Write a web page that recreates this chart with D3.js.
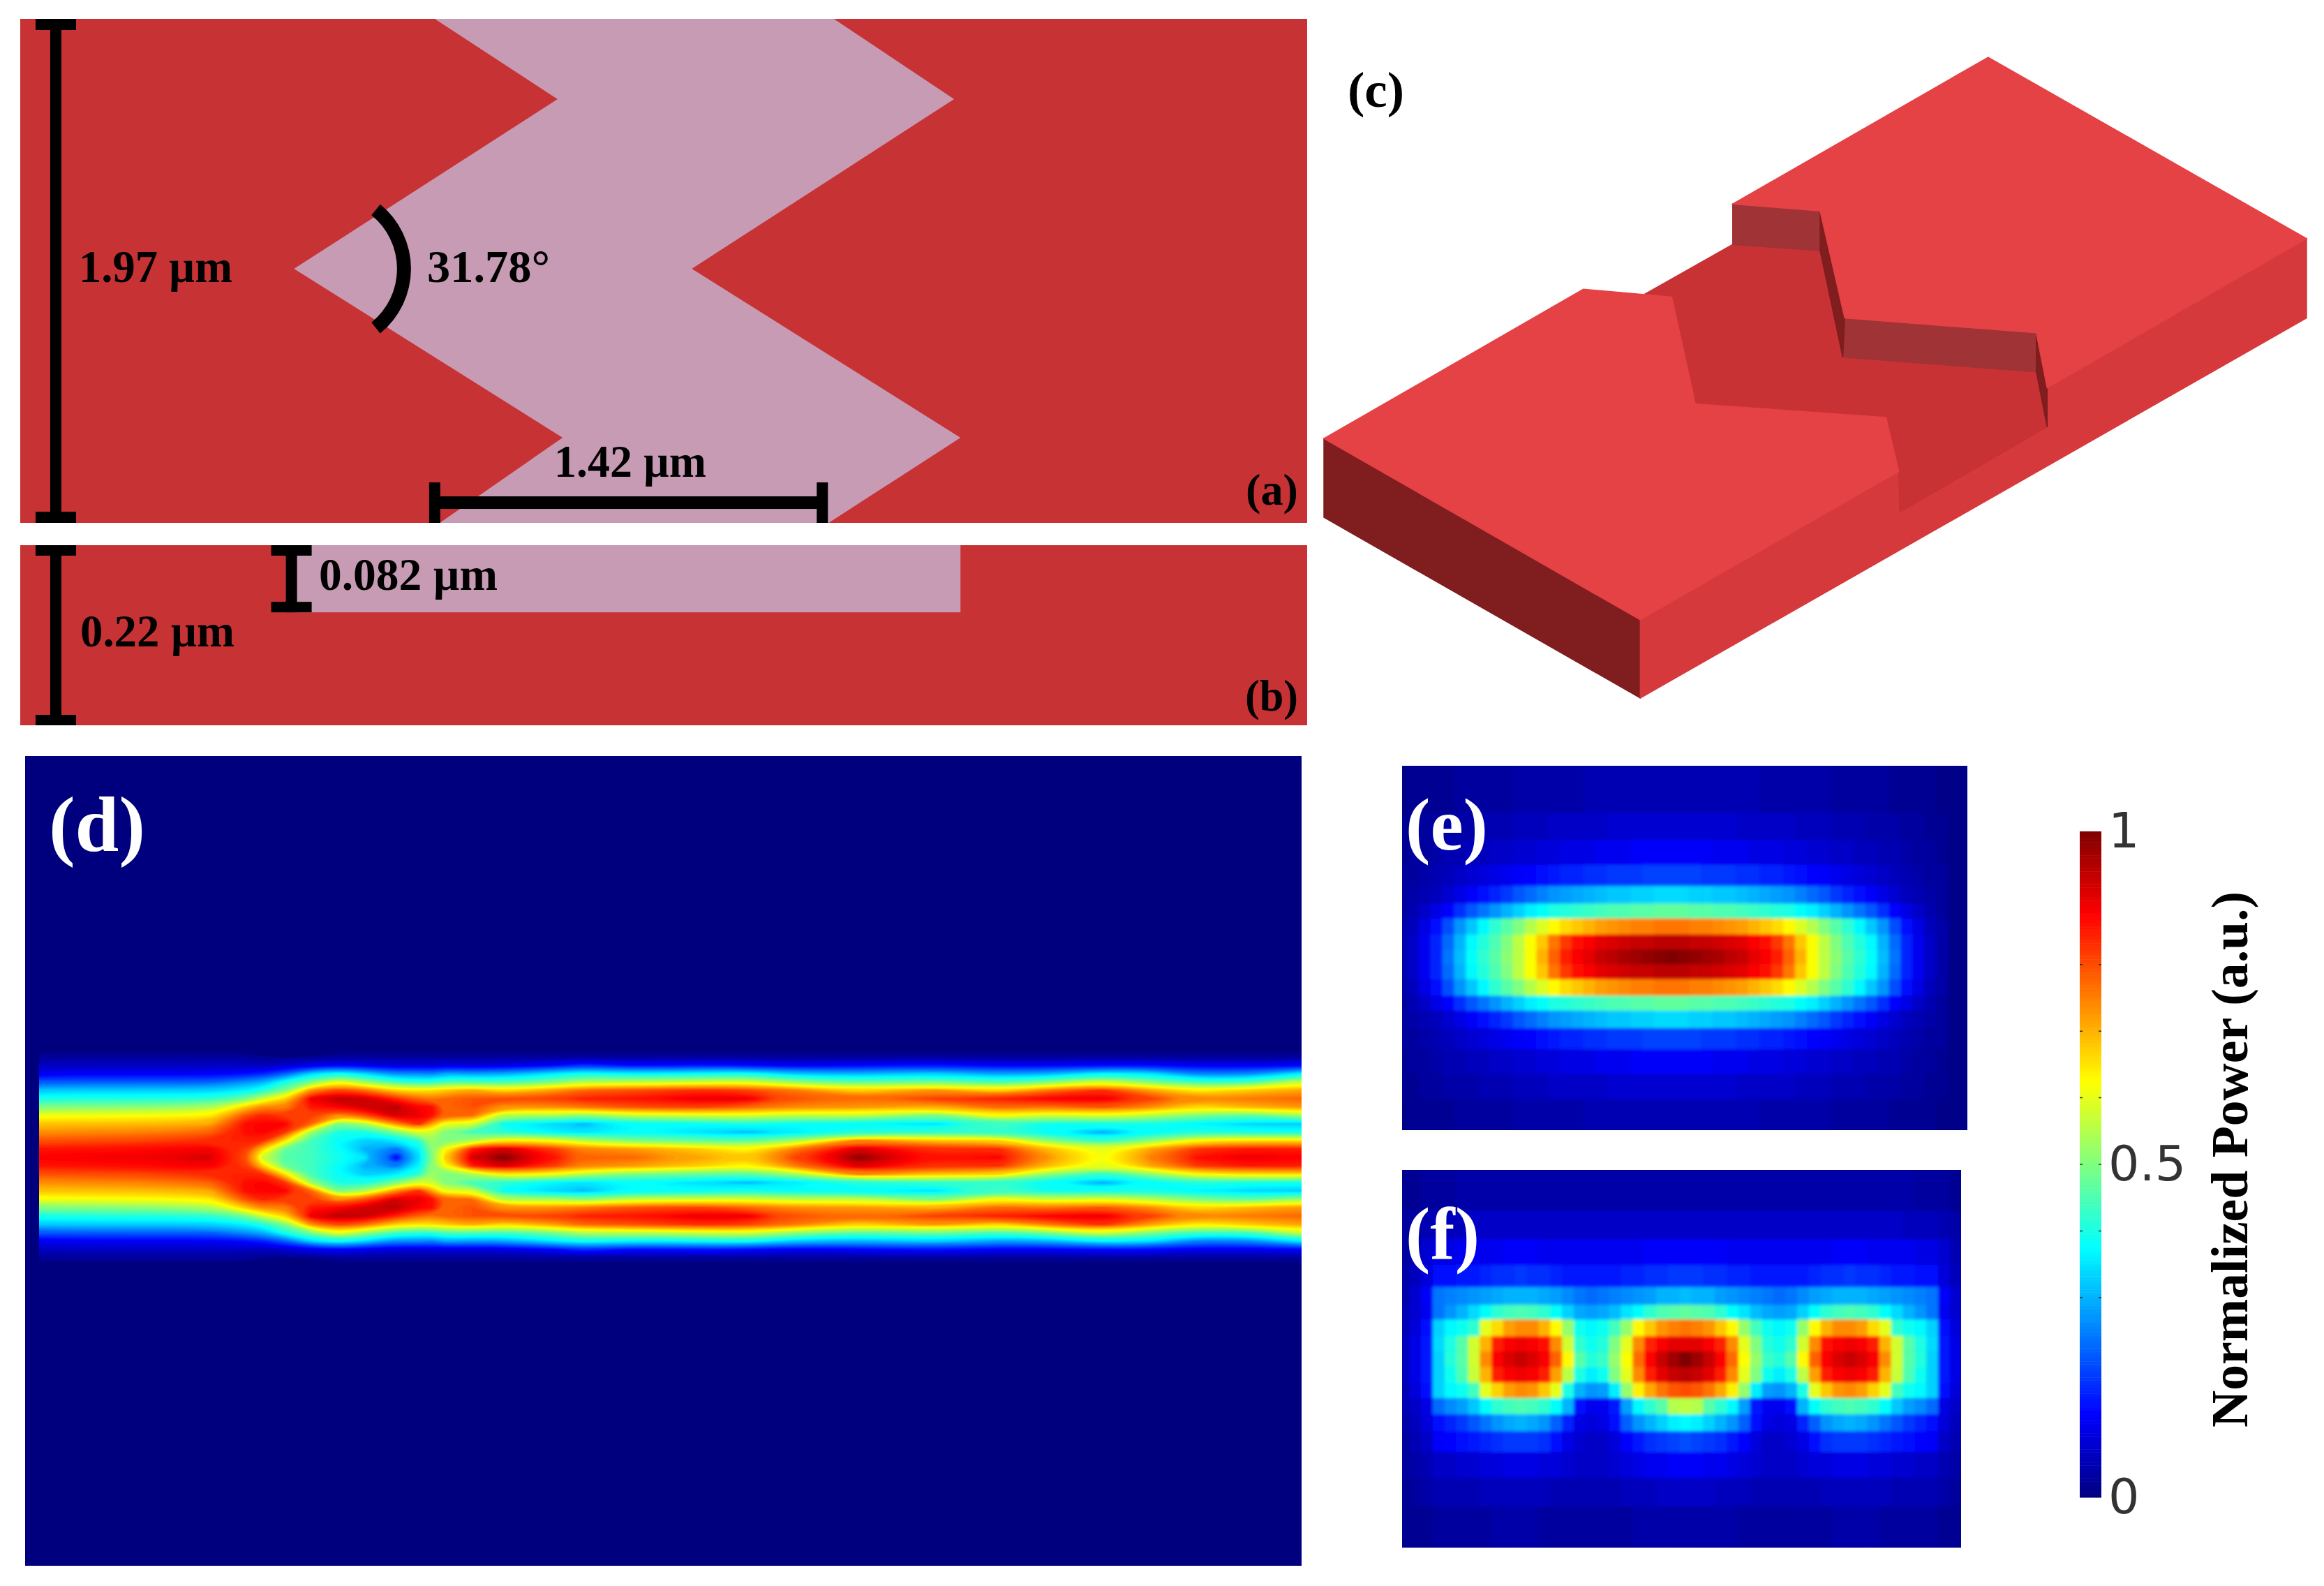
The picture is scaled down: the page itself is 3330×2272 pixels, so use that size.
<!DOCTYPE html>
<html>
<head>
<meta charset="utf-8">
<script src="https://cdn.jsdelivr.net/npm/d3@7"></script>
<style>
body{margin:0;background:#fff;}
svg{display:block;}
text{font-family:"Liberation Serif",serif;font-weight:bold;}
</style>
</head>
<body>
<div id="graph"></div>
<script>
// ---- device sizes, um
var deviceWidth = 5.03, deviceHeight = 1.97, slabDepth = 0.22, etchDepth = 0.082;
var etchOutline = [[1.62,0],[3.18,0],[3.65,0.314],[2.625,0.977],[3.675,1.637],[3.16,1.97],[1.64,1.97],[2.12,1.637],[1.07,0.977],[2.10,0.314]];
var etchSide = [1.06,3.675];
var barHeightX = 0.139, barDepthX = 1.06, barWidthX = [1.62,3.135], barWidthY = 1.891;
var angleArc = {cx:1.203,cy:0.977,r:0.297,half:51};

// ---- 3d view outline, percent of view box
var viewLeft = [[0,59.5],[32.2,87.8],[32.2,100],[0,71.8]];
var viewSide = [[32.2,87.8],[100,28.3],[100,40.7],[32.2,100]];
var viewTopA = [[0,59.5],[26.4,36.2],[35.4,37.4],[37.8,54.1],[57.2,56.2],[58.5,64.6],[32.2,87.8]];
var viewTopB = [[41.6,22.9],[67.6,0],[100,28.3],[73.6,51.6],[72.5,43.0],[53.0,40.7],[50.5,24.0]];
var viewFloor = [[41.6,29.2],[32.6,37.0],[35.4,37.4],[37.8,54.1],[57.2,56.2],[58.5,64.6],[58.6,71.0],[73.6,57.7],[72.5,49.1],[52.8,46.8],[50.5,30.2]];
var viewWallA = [[41.6,22.9],[50.5,24.0],[50.5,30.2],[41.6,29.2]];
var viewWallB = [[53.0,40.7],[72.5,43.0],[72.5,49.1],[52.8,46.8]];
var viewEdgeA = [[50.5,24.0],[53.0,40.7],[52.8,46.8],[50.5,30.2]];
var viewEdgeB = [[72.5,43.0],[73.6,51.6],[73.6,57.7],[72.5,49.1]];

// ---- panel d, power across the guide at each station along it (centre line outwards, 12 px apart)
var dStations = [20,200,300,351,376,408,446,485,523,568,600,619,638,676,721,797,835,906,1000,1069,1140,1230,1339,1431,1500,1580,1650,1717,1790,1865,1905];
var dProfiles = [
 [.88,.86,.80,.74,.69,.62,.51,.41,.33,.22,.12,.07,.03,.01],
 [.89,.87,.81,.75,.69,.62,.51,.41,.33,.22,.12,.07,.03,.01],
 [.92,.89,.84,.78,.71,.64,.54,.42,.33,.22,.12,.07,.03,.01],
 [.80,.82,.85,.87,.87,.80,.68,.49,.37,.27,.14,.07,.03,.01],
 [.57,.68,.84,.88,.88,.85,.75,.58,.41,.30,.16,.06,.02,.01],
 [.46,.48,.66,.83,.88,.82,.75,.67,.50,.40,.22,.08,.02,.01],
 [.44,.44,.44,.53,.78,.82,.86,.90,.74,.50,.34,.11,.02,.01],
 [.40,.38,.38,.40,.49,.73,.88,.95,.82,.62,.40,.13,.03,.01],
 [.36,.30,.33,.40,.55,.80,.92,.93,.77,.53,.34,.11,.03,.01],
 [.13,.24,.36,.50,.74,.92,.95,.84,.67,.44,.26,.09,.03,.01],
 [.34,.37,.42,.60,.84,.90,.88,.78,.65,.42,.27,.09,.03,.01],
 [.50,.52,.53,.58,.72,.87,.87,.76,.66,.42,.25,.09,.03,.01],
 [.68,.63,.50,.50,.60,.78,.78,.78,.68,.46,.30,.10,.03,.01],
 [.92,.85,.55,.44,.60,.78,.80,.80,.72,.46,.28,.09,.03,.01],
 [1.0,.93,.66,.42,.38,.54,.73,.80,.66,.44,.29,.10,.03,.01],
 [.86,.82,.62,.37,.34,.55,.74,.82,.73,.50,.36,.13,.03,.01],
 [.78,.75,.56,.35,.31,.50,.76,.85,.78,.56,.40,.18,.03,.01],
 [.78,.73,.50,.38,.38,.58,.80,.86,.80,.56,.36,.13,.03,.01],
 [.72,.68,.48,.35,.38,.59,.82,.90,.84,.58,.38,.15,.03,.01],
 [.68,.63,.46,.31,.41,.60,.78,.90,.82,.60,.40,.14,.03,.01],
 [.82,.76,.54,.36,.38,.56,.74,.80,.76,.52,.32,.11,.03,.01],
 [.99,.92,.76,.42,.38,.58,.73,.77,.67,.46,.30,.13,.03,.01],
 [.86,.83,.68,.42,.35,.48,.70,.82,.74,.50,.34,.15,.03,.01],
 [.88,.84,.68,.43,.44,.64,.78,.85,.66,.44,.28,.12,.03,.01],
 [.74,.70,.52,.38,.39,.57,.76,.88,.76,.50,.30,.12,.03,.01],
 [.62,.60,.42,.30,.40,.61,.80,.90,.84,.60,.38,.14,.03,.01],
 [.76,.72,.52,.38,.40,.56,.74,.82,.72,.50,.35,.14,.03,.01],
 [.87,.83,.64,.42,.37,.50,.66,.74,.64,.43,.25,.11,.03,.01],
 [.90,.86,.66,.40,.34,.46,.70,.76,.68,.44,.26,.11,.03,.01],
 [.88,.85,.66,.40,.33,.54,.73,.78,.72,.58,.37,.13,.03,.01],
 [.88,.85,.66,.40,.33,.54,.73,.78,.72,.58,.37,.13,.03,.01]
];

// ---- panel e cells, centre column outwards; rows are mirrored about the middle row
var eRowEdges = [0,.129,.204,.272,.330,.378,.419,.463,.504,.545,.586,.631,.672,.720,.778,.846,.915,1];
var eRows = [
 [.05,.05,.05,.05,.05,.05,.05,.05,.04,.04,.04,.04,.04,.04,.03,.03,.03,.03,.03,.02,.02,.02,.02,.01],
 [.08,.08,.08,.08,.08,.08,.07,.07,.07,.07,.07,.06,.06,.06,.05,.05,.05,.04,.04,.04,.03,.03,.02,.02],
 [.12,.12,.12,.12,.11,.11,.11,.10,.10,.10,.09,.09,.08,.08,.07,.07,.06,.06,.05,.05,.04,.03,.03,.02],
 [.19,.19,.19,.18,.18,.18,.17,.17,.16,.16,.15,.14,.13,.12,.11,.10,.09,.08,.07,.06,.05,.04,.03,.03],
 [.34,.34,.33,.33,.32,.32,.31,.30,.29,.28,.27,.25,.23,.21,.18,.16,.14,.12,.10,.08,.06,.05,.04,.03],
 [.47,.47,.46,.46,.45,.45,.44,.43,.42,.41,.40,.38,.36,.33,.30,.27,.24,.21,.17,.13,.10,.07,.05,.03],
 [.76,.76,.75,.75,.74,.73,.72,.70,.68,.66,.63,.59,.55,.50,.46,.42,.37,.32,.27,.20,.14,.10,.06,.04],
 [.94,.94,.93,.93,.92,.91,.90,.88,.86,.82,.76,.68,.62,.56,.50,.45,.41,.37,.30,.23,.16,.11,.07,.04],
 [1.0,.99,.98,.97,.96,.94,.93,.90,.88,.85,.78,.70,.62,.56,.51,.46,.42,.38,.31,.24,.16,.11,.07,.04]
];

// ---- panel f cells, centre column outwards; every row listed
var fRowEdges = [0,.108,.183,.252,.310,.357,.396,.440,.481,.522,.563,.604,.647,.692,.747,.815,.891,1];
var fRows = [
 [.04,.04,.04,.04,.04,.04,.04,.04,.04,.04,.04,.04,.04,.04,.04,.04,.04,.04,.04,.04,.03,.03,.03,.02,.02],
 [.07,.07,.07,.07,.07,.07,.07,.07,.07,.07,.07,.07,.07,.07,.07,.07,.07,.07,.07,.06,.06,.06,.05,.04,.03],
 [.12,.12,.12,.12,.11,.11,.11,.11,.11,.11,.11,.11,.11,.12,.12,.12,.11,.11,.11,.11,.10,.10,.08,.05,.03],
 [.18,.18,.17,.17,.16,.16,.15,.15,.15,.15,.15,.16,.17,.17,.18,.17,.17,.16,.15,.15,.14,.14,.09,.06,.04],
 [.31,.30,.30,.28,.27,.26,.25,.24,.23,.24,.26,.28,.29,.30,.30,.30,.29,.28,.27,.26,.25,.24,.12,.08,.04],
 [.47,.46,.45,.42,.38,.35,.31,.29,.28,.29,.33,.38,.42,.44,.45,.44,.42,.38,.34,.30,.27,.24,.11,.08,.05],
 [.76,.75,.73,.68,.63,.52,.44,.39,.37,.39,.52,.63,.70,.74,.74,.72,.66,.60,.42,.39,.37,.33,.14,.09,.05],
 [.90,.90,.88,.84,.74,.60,.50,.41,.39,.42,.58,.74,.86,.88,.89,.88,.85,.70,.58,.46,.40,.34,.15,.10,.06],
 [1.0,.97,.93,.87,.77,.62,.52,.43,.41,.46,.63,.78,.88,.91,.93,.91,.88,.74,.58,.46,.41,.33,.15,.10,.06],
 [.94,.93,.90,.85,.74,.60,.50,.39,.36,.40,.56,.72,.85,.88,.89,.88,.85,.70,.57,.45,.39,.33,.15,.10,.06],
 [.80,.79,.76,.71,.64,.52,.36,.28,.27,.30,.40,.60,.68,.73,.74,.72,.67,.60,.44,.39,.37,.33,.14,.09,.05],
 [.56,.55,.46,.42,.37,.28,.15,.11,.11,.14,.30,.38,.42,.44,.45,.44,.42,.38,.32,.28,.26,.23,.10,.07,.05],
 [.37,.36,.33,.30,.27,.22,.14,.10,.09,.10,.16,.22,.27,.29,.30,.29,.27,.24,.21,.18,.16,.14,.09,.06,.04],
 [.20,.19,.18,.17,.15,.13,.09,.07,.07,.08,.10,.14,.17,.18,.18,.18,.17,.16,.15,.14,.13,.12,.07,.05,.03],
 [.12,.12,.11,.11,.10,.09,.08,.07,.07,.07,.08,.09,.09,.10,.10,.10,.09,.09,.08,.08,.07,.07,.05,.04,.03],
 [.07,.07,.07,.06,.06,.06,.05,.05,.05,.05,.05,.05,.06,.06,.06,.06,.06,.06,.05,.05,.05,.05,.04,.03,.02],
 [.04,.04,.04,.04,.04,.03,.03,.03,.03,.03,.03,.03,.03,.04,.04,.04,.04,.03,.03,.03,.03,.03,.02,.02,.02]
];

var barTicks = [.3,.4,.5,.6,.7,.8];
var barLabels = [0,.5,1];

var W = 3330, H = 2272;
var red = "#c73234", pink = "#c79bb4", black = "#000";
var jet = d3.scaleLinear()
    .domain([0,.125,.375,.625,.875,1])
    .range(["#00007f","#0000ff","#00ffff","#ffff00","#ff0000","#7f0000"]);

var svg = d3.select("#graph").append("svg").attr("width",W).attr("height",H);
var defs = svg.append("defs");
defs.append("filter").attr("id","soft").attr("x","-5%").attr("y","-5%").attr("width","110%").attr("height","110%")
    .append("feGaussianBlur").attr("stdDeviation",2.2);

// ---- (a) and (b)
var xA = d3.scaleLinear().domain([0,deviceWidth]).range([29,1873]);
var yA = d3.scaleLinear().domain([0,deviceHeight]).range([27,749]);
var yB = d3.scaleLinear().domain([0,slabDepth]).range([781,1039]);
var outline = d3.line().x(function(d){return xA(d[0]);}).y(function(d){return yA(d[1]);});

svg.append("rect").attr("x",xA(0)).attr("y",yA(0)).attr("width",xA(deviceWidth)-xA(0)).attr("height",yA(deviceHeight)-yA(0)).attr("fill",red);
svg.append("path").attr("d",outline(etchOutline)+"Z").attr("fill",pink);
svg.append("rect").attr("x",xA(0)).attr("y",yB(0)).attr("width",xA(deviceWidth)-xA(0)).attr("height",yB(slabDepth)-yB(0)).attr("fill",red);
svg.append("rect").attr("x",xA(etchSide[0])).attr("y",yB(0)).attr("width",xA(etchSide[1])-xA(etchSide[0])).attr("height",yB(etchDepth)-yB(0)).attr("fill",pink);

function bar(x1,y1,x2,y2,capx,capy){
    // capx, capy are half sizes of the end caps
    var g = svg.append("g").attr("fill",black);
    if(x1==x2){
        g.append("rect").attr("x",x1-8).attr("y",y1).attr("width",16).attr("height",y2-y1);
        [y1,y2-capy].forEach(function(y){
            g.append("rect").attr("x",x1-capx).attr("y",y).attr("width",capx*2).attr("height",capy);
        });
    }else{
        g.append("rect").attr("x",x1).attr("y",y1-9).attr("width",x2-x1).attr("height",18);
        [x1,x2].forEach(function(x){
            g.append("rect").attr("x",x-8).attr("y",y1-capy).attr("width",16).attr("height",capy+(yA(deviceHeight)-y1));
        });
    }
}
bar(xA(barHeightX),yA(0),xA(barHeightX),yA(deviceHeight),29,16);
bar(xA(barWidthX[0]),yA(barWidthY),xA(barWidthX[1]),yA(barWidthY),8,29);
bar(xA(barHeightX),yB(0),xA(barHeightX),yB(slabDepth),29,15);
bar(xA(barDepthX),yB(0),xA(barDepthX),yB(etchDepth),29,15);

var arcR = xA(angleArc.r)-xA(0);
svg.append("path")
    .attr("transform","translate("+xA(angleArc.cx)+","+yA(angleArc.cy)+")")
    .attr("fill",black)
    .attr("d",d3.arc().innerRadius(arcR-10).outerRadius(arcR+10)
        .startAngle((90-angleArc.half)*Math.PI/180).endAngle((90+angleArc.half)*Math.PI/180)());

function label(str,x,y,size,fill,len){
    var t = svg.append("text").attr("x",x).attr("y",y).attr("font-size",size).attr("fill",fill||"#000").text(str);
    if(len)t.attr("textLength",len).attr("lengthAdjust","spacingAndGlyphs");
    return t;
}
label("1.97 µm",113,404,65,"#000",220);
label("31.78°",612,404,65,"#000",176);
label("1.42 µm",794,683,65,"#000",218);
label("0.082 µm",457,845,65,"#000",256);
label("0.22 µm",115,926,65,"#000",221);
label("(a)",1785,723,64,"#000",75);
label("(b)",1784,1018,64,"#000",76);

// ---- (c)
var xC = d3.scaleLinear().domain([0,100]).range([1897,3305]);
var yC = d3.scaleLinear().domain([0,100]).range([82,1000]);
var viewLine = d3.line().x(function(d){return xC(d[0]);}).y(function(d){return yC(d[1]);});
[[viewLeft,"#7f1d1f"],[viewSide,"#d6393c"],[viewFloor,"#c83235"],[viewWallA,"#9f3335"],[viewWallB,"#9f3335"],
 [viewEdgeA,"#7f1d1f"],[viewEdgeB,"#7f1d1f"],[viewTopA,"#e54245"],[viewTopB,"#e54245"]].forEach(function(f){
    svg.append("path").attr("d",viewLine(f[0])+"Z").attr("fill",f[1]).attr("stroke",f[1]).attr("stroke-width",1.5);
});
label("(c)",1931,153,72,"#000",81);

// ---- (d) field, filled contours of the mirrored profiles
var dBox = {x:36,y:1083,w:1829,h:1160};
var dStart = 56;
var dCenter = 1658, dStep = 12;
var nCol = dStations.length, nHalf = dProfiles[0].length, nRow = nHalf*2-1;
var dValues = [];
for(var j=0;j<nRow;j++){
    var u = Math.abs(j-(nHalf-1));
    for(var i=0;i<nCol;i++)dValues.push(dProfiles[i][u]);
}
var xD = d3.scaleLinear().domain(dStations.map(function(d,i){return i+0.5;})).range(dStations).clamp(true);
var yD = d3.scaleLinear().domain([0.5,nRow-0.5]).range([dCenter-(nHalf-1)*dStep,dCenter+(nHalf-1)*dStep]).clamp(true);
var ringLine = d3.line().curve(d3.curveBasisClosed)
    .x(function(p){return xD(p[0]);}).y(function(p){return yD(p[1]);});
var dContours = d3.contours().size([nCol,nRow]).smooth(true).thresholds(d3.range(0.02,1.0,0.0075))(dValues);

svg.append("rect").attr("x",dBox.x).attr("y",dBox.y).attr("width",dBox.w).attr("height",dBox.h).attr("fill",jet(0));
defs.append("clipPath").attr("id","clipD").append("rect")
    .attr("x",dStart).attr("y",dBox.y).attr("width",dBox.x+dBox.w-dStart).attr("height",dBox.h);
svg.append("g").attr("clip-path","url(#clipD)").selectAll("path").data(dContours).enter().append("path")
    .attr("d",function(c){
        return c.coordinates.map(function(poly){
            return poly.map(function(ring){return ringLine(ring.slice(0,-1));}).join("");
        }).join("");
    })
    .attr("fill",function(c){return jet(c.value);});
label("(d)",70,1219,113,"#fff",138);

// ---- (e), (f) cells
function cells(box,center,step,rowEdges,rows,clip){
    var xS = d3.scaleLinear().domain([0,1]).range([center,center+step]);
    var yS = d3.scaleLinear().domain([0,1]).range([box.y,box.y+box.h]);
    defs.append("clipPath").attr("id",clip).append("rect").attr("x",box.x).attr("y",box.y).attr("width",box.w).attr("height",box.h);
    var outer = svg.append("g").attr("clip-path","url(#"+clip+")");
    outer.append("rect").attr("x",box.x).attr("y",box.y).attr("width",box.w).attr("height",box.h).attr("fill",jet(0.01));
    var g = outer.append("g").attr("filter","url(#soft)");
    rows.forEach(function(row,r){
        var half = row.length-1;
        d3.range(-half,half+1).forEach(function(c){
            g.append("rect")
                .attr("x",xS(c-0.5)).attr("width",xS(1)-xS(0)+0.6)
                .attr("y",yS(rowEdges[r])).attr("height",yS(rowEdges[r+1])-yS(rowEdges[r])+0.6)
                .attr("fill",jet(row[Math.abs(c)]));
        });
    });
}
var eMirrored = eRows.concat(eRows.slice(0,-1).reverse());
cells({x:2009,y:1097,w:810,h:522},2395,16.84,eRowEdges,eMirrored,"clipE");
label("(e)",2014,1217,106,"#fff",118);
cells({x:2009,y:1676,w:801,h:541},2415,16.84,fRowEdges,fRows,"clipF");
label("(f)",2014,1803,106,"#fff",106);

// ---- colour bar
var yBar = d3.scaleLinear().domain([0,1]).range([2145,1191]);
var barX = 2980, barW = 31;
svg.append("g").selectAll("rect").data(d3.range(0,1,0.004)).enter().append("rect")
    .attr("x",barX).attr("width",barW)
    .attr("y",function(d){return yBar(d+0.004);})
    .attr("height",function(d){return yBar(d)-yBar(d+0.004)+0.5;})
    .attr("fill",function(d){return jet(d+0.002);});
svg.append("g").selectAll("path").data(barTicks).enter().append("path")
    .attr("d",function(d){
        var y = yBar(d);
        return "M"+barX+","+y+"h4M"+(barX+barW-4)+","+y+"h4";
    })
    .attr("stroke","#333").attr("stroke-width",1.5);
var barAxis = svg.append("g").attr("transform","translate("+(barX+barW)+",0)")
    .call(d3.axisRight(yBar).tickValues(barLabels).tickSize(0).tickPadding(10).tickFormat(function(d){return d;}));
barAxis.select(".domain").remove();
barAxis.selectAll("text").style("font-family","'DejaVu Sans',sans-serif").style("font-weight","normal")
    .style("font-size","70px").attr("fill","#333");

svg.append("text")
    .attr("transform","translate(3220,2045) rotate(-90)")
    .attr("font-size",74).attr("fill","#000")
    .attr("textLength",768).attr("lengthAdjust","spacingAndGlyphs")
    .text("Normalized Power (a.u.)");
</script>
</body>
</html>
